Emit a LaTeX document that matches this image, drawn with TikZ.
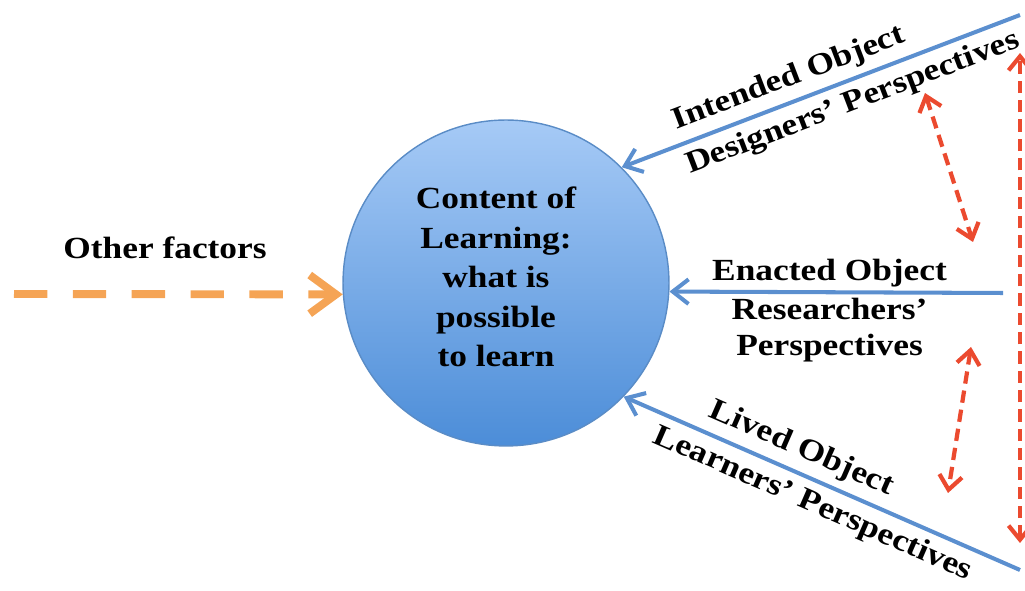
\documentclass[tikz,border=0pt]{standalone}
\usepackage{fontspec}
\setmainfont{Liberation Serif}[FakeStretch=1.15]
\usetikzlibrary{arrows.meta,shapes.geometric}
\definecolor{objblue}{HTML}{5B8FCF}
\definecolor{circtop}{HTML}{A6CAF6}
\definecolor{circbot}{HTML}{4C8DD8}
\definecolor{circline}{HTML}{5A8CC6}
\definecolor{factorange}{HTML}{F5A455}
\definecolor{linkred}{HTML}{EB4A2F}
\tikzset{
	labeltext/.style={font=\fontsize{17.5}{22.5}\selectfont\bfseries,inner sep=1pt},
	bluearrow/.style={draw=objblue,line width=2.3pt,-{Straight Barb[length=9pt,width=14pt]}},
	redlink/.style={draw=linkred,line width=2.4pt,dash pattern=on 7pt off 4pt,
		{Straight Barb[length=8pt,width=13pt]}-{Straight Barb[length=8pt,width=13pt]}},
	orangearrow/.style={draw=factorange,line width=4.5pt,dash pattern=on 19pt off 14.5pt,
		-{Straight Barb[length=15pt,width=22pt]}}
}
\begin{document}
\begin{tikzpicture}[x=0.02cm,y=0.02cm]
	\useasboundingbox (0,0) rectangle (1025,591);
	% centre
	\node[circle,minimum size=6.52cm,inner sep=0pt,draw=circline,line width=0.8pt,
		top color=circtop,bottom color=circbot] (content) at (506,308) {};
	\node[labeltext,align=center] (contenttext) at (496,314) {Content of\\Learning:\\what is\\possible\\to learn};
	% free ends
	\coordinate (designers) at (1020,576);
	\coordinate (researchers) at (1003,298);
	\coordinate (learners) at (1020,21);
	\coordinate (factors) at (14,297);
	\coordinate (redtop) at (1020,538);
	\coordinate (redbot) at (1020,48);
	\coordinate (lnkAa) at (925,498);
	\coordinate (lnkAb) at (973,349);
	\coordinate (lnkBa) at (971,244);
	\coordinate (lnkBb) at (948,98);
	% objects
	\draw[bluearrow] (designers) -- node[labeltext,pos=0.56,sloped,above=3pt] (intended) {Intended Object}
		node[labeltext,pos=0.44,sloped,below=3pt] (designlbl) {Designers’ Perspectives} (content.45.5);
	\draw[bluearrow] (researchers) -- node[labeltext,pos=0.52,above=1pt] (enacted) {Enacted Object}
		node[labeltext,pos=0.52,below=1pt,align=center,font=\fontsize{17.5}{20.5}\selectfont\bfseries] (researchlbl) {Researchers’\\Perspectives} (content.-3.5);
	\draw[bluearrow] (learners) -- node[labeltext,pos=0.575,sloped,above=3pt] (lived) {Lived Object}
		node[labeltext,pos=0.5,sloped,below=3pt] (learnlbl) {Learners’ Perspectives} (content.-44);
	% other factors
	\node[labeltext] (otherlbl) at (165,343) {Other factors};
	\draw[orangearrow] (factors) -- (content.184);
	% links
	\draw[redlink] (redbot) -- (redtop);
	\draw[redlink] (lnkAa) -- (lnkAb);
	\draw[redlink] (lnkBa) -- (lnkBb);
\end{tikzpicture}
\end{document}
